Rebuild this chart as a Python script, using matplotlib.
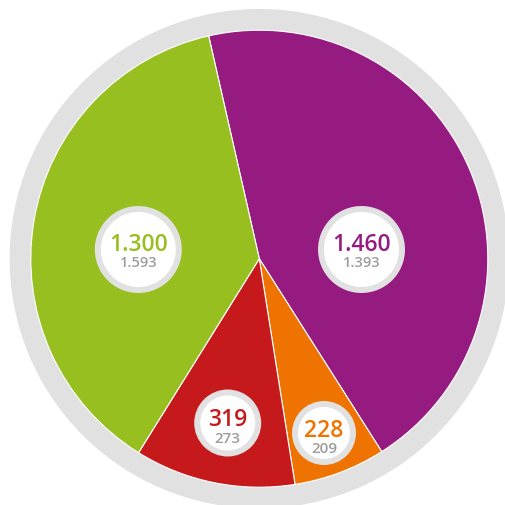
import matplotlib.pyplot as plt
from matplotlib.patches import Circle

# slices, clockwise from the top
labels = ["1.460", "228", "319", "1.300"]
prev_labels = ["1.393", "209", "273", "1.593"]
# slice sizes as drawn in the picture (degrees), not exactly proportional
slice_deg = [160.4, 23.4, 40.9, 135.3]
colors = ["#951b81", "#ef7300", "#c6191b", "#97bf1f"]

W, H = 506, 505
fig = plt.figure(figsize=(W / 100, H / 100), dpi=100)
ax = fig.add_axes([0, 0, 1, 1])

cx, cy = 259.3, H - 258.7
ax.add_patch(Circle((cx, cy), 249, color="#e1e1e1", zorder=0))
ax.pie(slice_deg, colors=colors, startangle=102.8, counterclock=False,
       center=(cx, cy), radius=228.5,
       wedgeprops=dict(edgecolor="white", linewidth=0.8))

# bubble center x, y, outer radius, main baseline, sub baseline, main size, sub size
bubbles = [
    (361.5, 249.5, 43.5, 250.7, 267.3, 16.5, 10.5),
    (324.0, 433.0, 32.0, 437.3, 453.3, 16.5, 11),
    (227.7, 423.0, 33.5, 426.0, 443.3, 16.5, 11),
    (138.3, 249.5, 43.5, 250.7, 267.3, 16.5, 10.5),
]
for (bx, by, br, my, sy, ms, ss), lab, prev, col in zip(bubbles, labels, prev_labels, colors):
    ax.add_patch(Circle((bx, H - by), br - 3, facecolor="white",
                        edgecolor="#e1e1e1", linewidth=4.3, zorder=3))
    ax.text(bx, H - my, lab, color=col, fontsize=ms, fontfamily="Open Sans",
            fontweight="semibold", ha="center", va="baseline", zorder=4)
    ax.text(bx, H - sy, prev, color="#9d9d9d", fontsize=ss, fontfamily="Open Sans",
            fontweight="semibold", ha="center", va="baseline", zorder=4)

ax.set_xlim(0, W)
ax.set_ylim(0, H)
ax.set_aspect("equal")
ax.axis("off")
fig.savefig("out.png", dpi=100)
